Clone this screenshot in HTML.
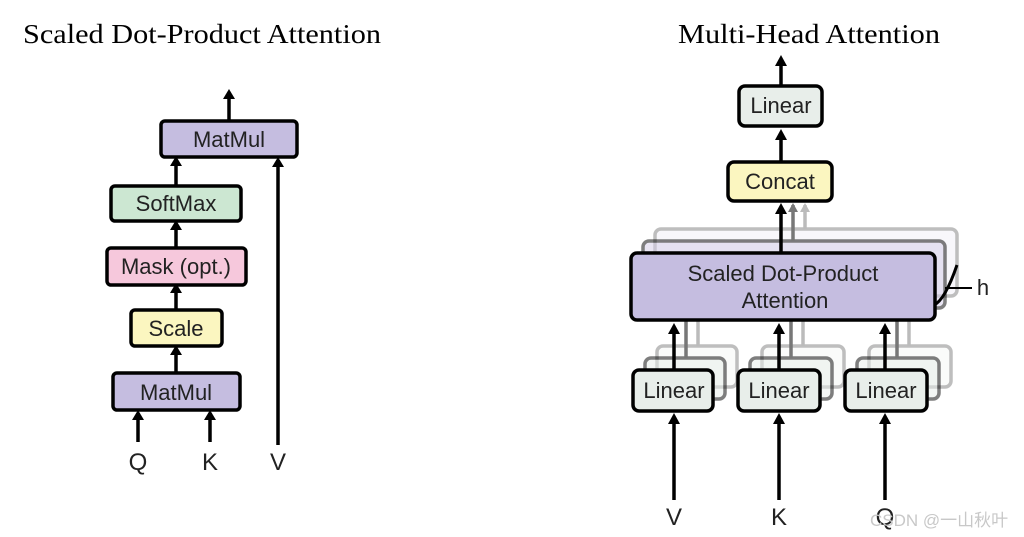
<!DOCTYPE html>
<html><head><style>body{margin:0;background:#fff}svg{display:block}</style></head><body>
<svg width="1024" height="537" viewBox="0 0 1024 537" xmlns="http://www.w3.org/2000/svg" font-family="Liberation Sans, sans-serif">
<text x="23" y="43" font-family="Liberation Serif, serif" font-size="27" textLength="358" lengthAdjust="spacingAndGlyphs">Scaled Dot-Product Attention</text>
<text x="678" y="43" font-family="Liberation Serif, serif" font-size="27" textLength="262" lengthAdjust="spacingAndGlyphs">Multi-Head Attention</text>
<g stroke="#000" stroke-width="3.5" fill="none">
<path d="M229 121 V95"/><path d="M176 186 V160"/><path d="M176 248 V224"/><path d="M176 310 V288"/><path d="M176 373 V349"/>
<path d="M138 442 V413"/><path d="M210 442 V413"/><path d="M278 445 V160"/>
</g>
<g fill="#000">
<path d="M223 99 L229 89 L235 99Z"/><path d="M170 166 L176 156 L182 166Z"/><path d="M170 230 L176 220 L182 230Z"/><path d="M170 293 L176 283 L182 293Z"/><path d="M170 355 L176 345 L182 355Z"/>
<path d="M132 420 L138 410 L144 420Z"/><path d="M204 420 L210 410 L216 420Z"/><path d="M272 167 L278 157 L284 167Z"/>
</g>
<g stroke="#000" stroke-width="3.5">
<rect x="161" y="121" width="136" height="36" rx="4" fill="#c5bde0"/>
<rect x="111" y="186" width="130" height="35" rx="4" fill="#cce7d2"/>
<rect x="107" y="248" width="139" height="37" rx="4" fill="#f6c8dc"/>
<rect x="131" y="310" width="91" height="36" rx="4" fill="#fbf6c0"/>
<rect x="113" y="373" width="127" height="37" rx="4" fill="#c5bde0"/>
</g>
<g font-size="22" text-anchor="middle" fill="#222">
<text x="229" y="147">MatMul</text><text x="176" y="211">SoftMax</text><text x="176" y="274">Mask (opt.)</text><text x="176" y="336">Scale</text><text x="176" y="400">MatMul</text>
<text x="138" y="470" font-size="24">Q</text><text x="210" y="470" font-size="24">K</text><text x="278" y="470" font-size="24">V</text>
</g>
<g opacity="0.25" stroke="#000" stroke-width="3.5"><rect x="655" y="229" width="302" height="67" rx="6" fill="#e4e0f2"/></g>
<g opacity="0.5" stroke="#000" stroke-width="3.5"><rect x="643" y="241" width="302" height="67" rx="6" fill="#d4cde9"/></g>
<g stroke-width="3.5" fill="none">
<path d="M805 229 V205" stroke="#bbb"/><path d="M793 241 V205" stroke="#777"/>
</g>
<path d="M800 212 L805 203 L810 212Z" fill="#bbb"/><path d="M788 212 L793 203 L798 212Z" fill="#777"/>
<g opacity="0.25" stroke="#000" stroke-width="3.5" fill="#eef2ef">
<rect x="657" y="346" width="80" height="41" rx="6"/><rect x="762" y="346" width="82" height="41" rx="6"/><rect x="869" y="346" width="82" height="41" rx="6"/>
</g>
<g opacity="0.5" stroke="#000" stroke-width="3.5" fill="#e8eeea">
<rect x="645" y="358" width="80" height="41" rx="6"/><rect x="750" y="358" width="82" height="41" rx="6"/><rect x="857" y="358" width="82" height="41" rx="6"/>
</g>
<g stroke-width="3.5"><path d="M698 346 V308 M803 346 V308 M909 346 V308" stroke="#bbb"/><path d="M686 358 V320 M791 358 V320 M897 358 V320" stroke="#777"/></g>
<g stroke="#000" stroke-width="3.5" fill="none">
<path d="M781 86 V62"/><path d="M781 162 V133"/><path d="M781 253 V207"/>
<path d="M674 370 V327"/><path d="M779 370 V327"/><path d="M885 370 V327"/>
<path d="M674 500 V418"/><path d="M779 500 V418"/><path d="M885 500 V418"/>
<path d="M934 305 Q945 300 957 265" stroke-width="3"/><path d="M945 288 H972" stroke-width="2"/>
</g>
<g fill="#000">
<path d="M775 66 L781 55 L787 66Z"/><path d="M775 140 L781 129 L787 140Z"/><path d="M775 214 L781 203 L787 214Z"/>
<path d="M668 334 L674 323 L680 334Z"/><path d="M773 334 L779 323 L785 334Z"/><path d="M879 334 L885 323 L891 334Z"/>
<path d="M668 424 L674 413 L680 424Z"/><path d="M773 424 L779 413 L785 424Z"/><path d="M879 424 L885 413 L891 424Z"/>
</g>
<g stroke="#000" stroke-width="3.5">
<rect x="739" y="86" width="83" height="40" rx="6" fill="#e8eeea"/>
<rect x="728" y="162" width="104" height="39" rx="6" fill="#fbf6c0"/>
<rect x="631" y="253" width="304" height="67" rx="6" fill="#c5bde0"/>
<rect x="633" y="370" width="80" height="41" rx="6" fill="#e8eeea"/>
<rect x="738" y="370" width="82" height="41" rx="6" fill="#e8eeea"/>
<rect x="845" y="370" width="82" height="41" rx="6" fill="#e8eeea"/>
</g>
<g font-size="22" text-anchor="middle" fill="#222">
<text x="781" y="113">Linear</text><text x="780" y="189">Concat</text>
<text x="783" y="281">Scaled Dot-Product</text><text x="785" y="308">Attention</text>
<text x="674" y="398">Linear</text><text x="779" y="398">Linear</text><text x="886" y="398">Linear</text>
<text x="674" y="525" font-size="24">V</text><text x="779" y="525" font-size="24">K</text><text x="885" y="525" font-size="24">Q</text>
<text x="983" y="295">h</text>
</g>
<text x="870" y="526" font-family="Liberation Sans, Noto Sans CJK SC, sans-serif" font-size="17" fill="#c8c8c8">CSDN @一山秋叶</text>
</svg>
</body></html>
